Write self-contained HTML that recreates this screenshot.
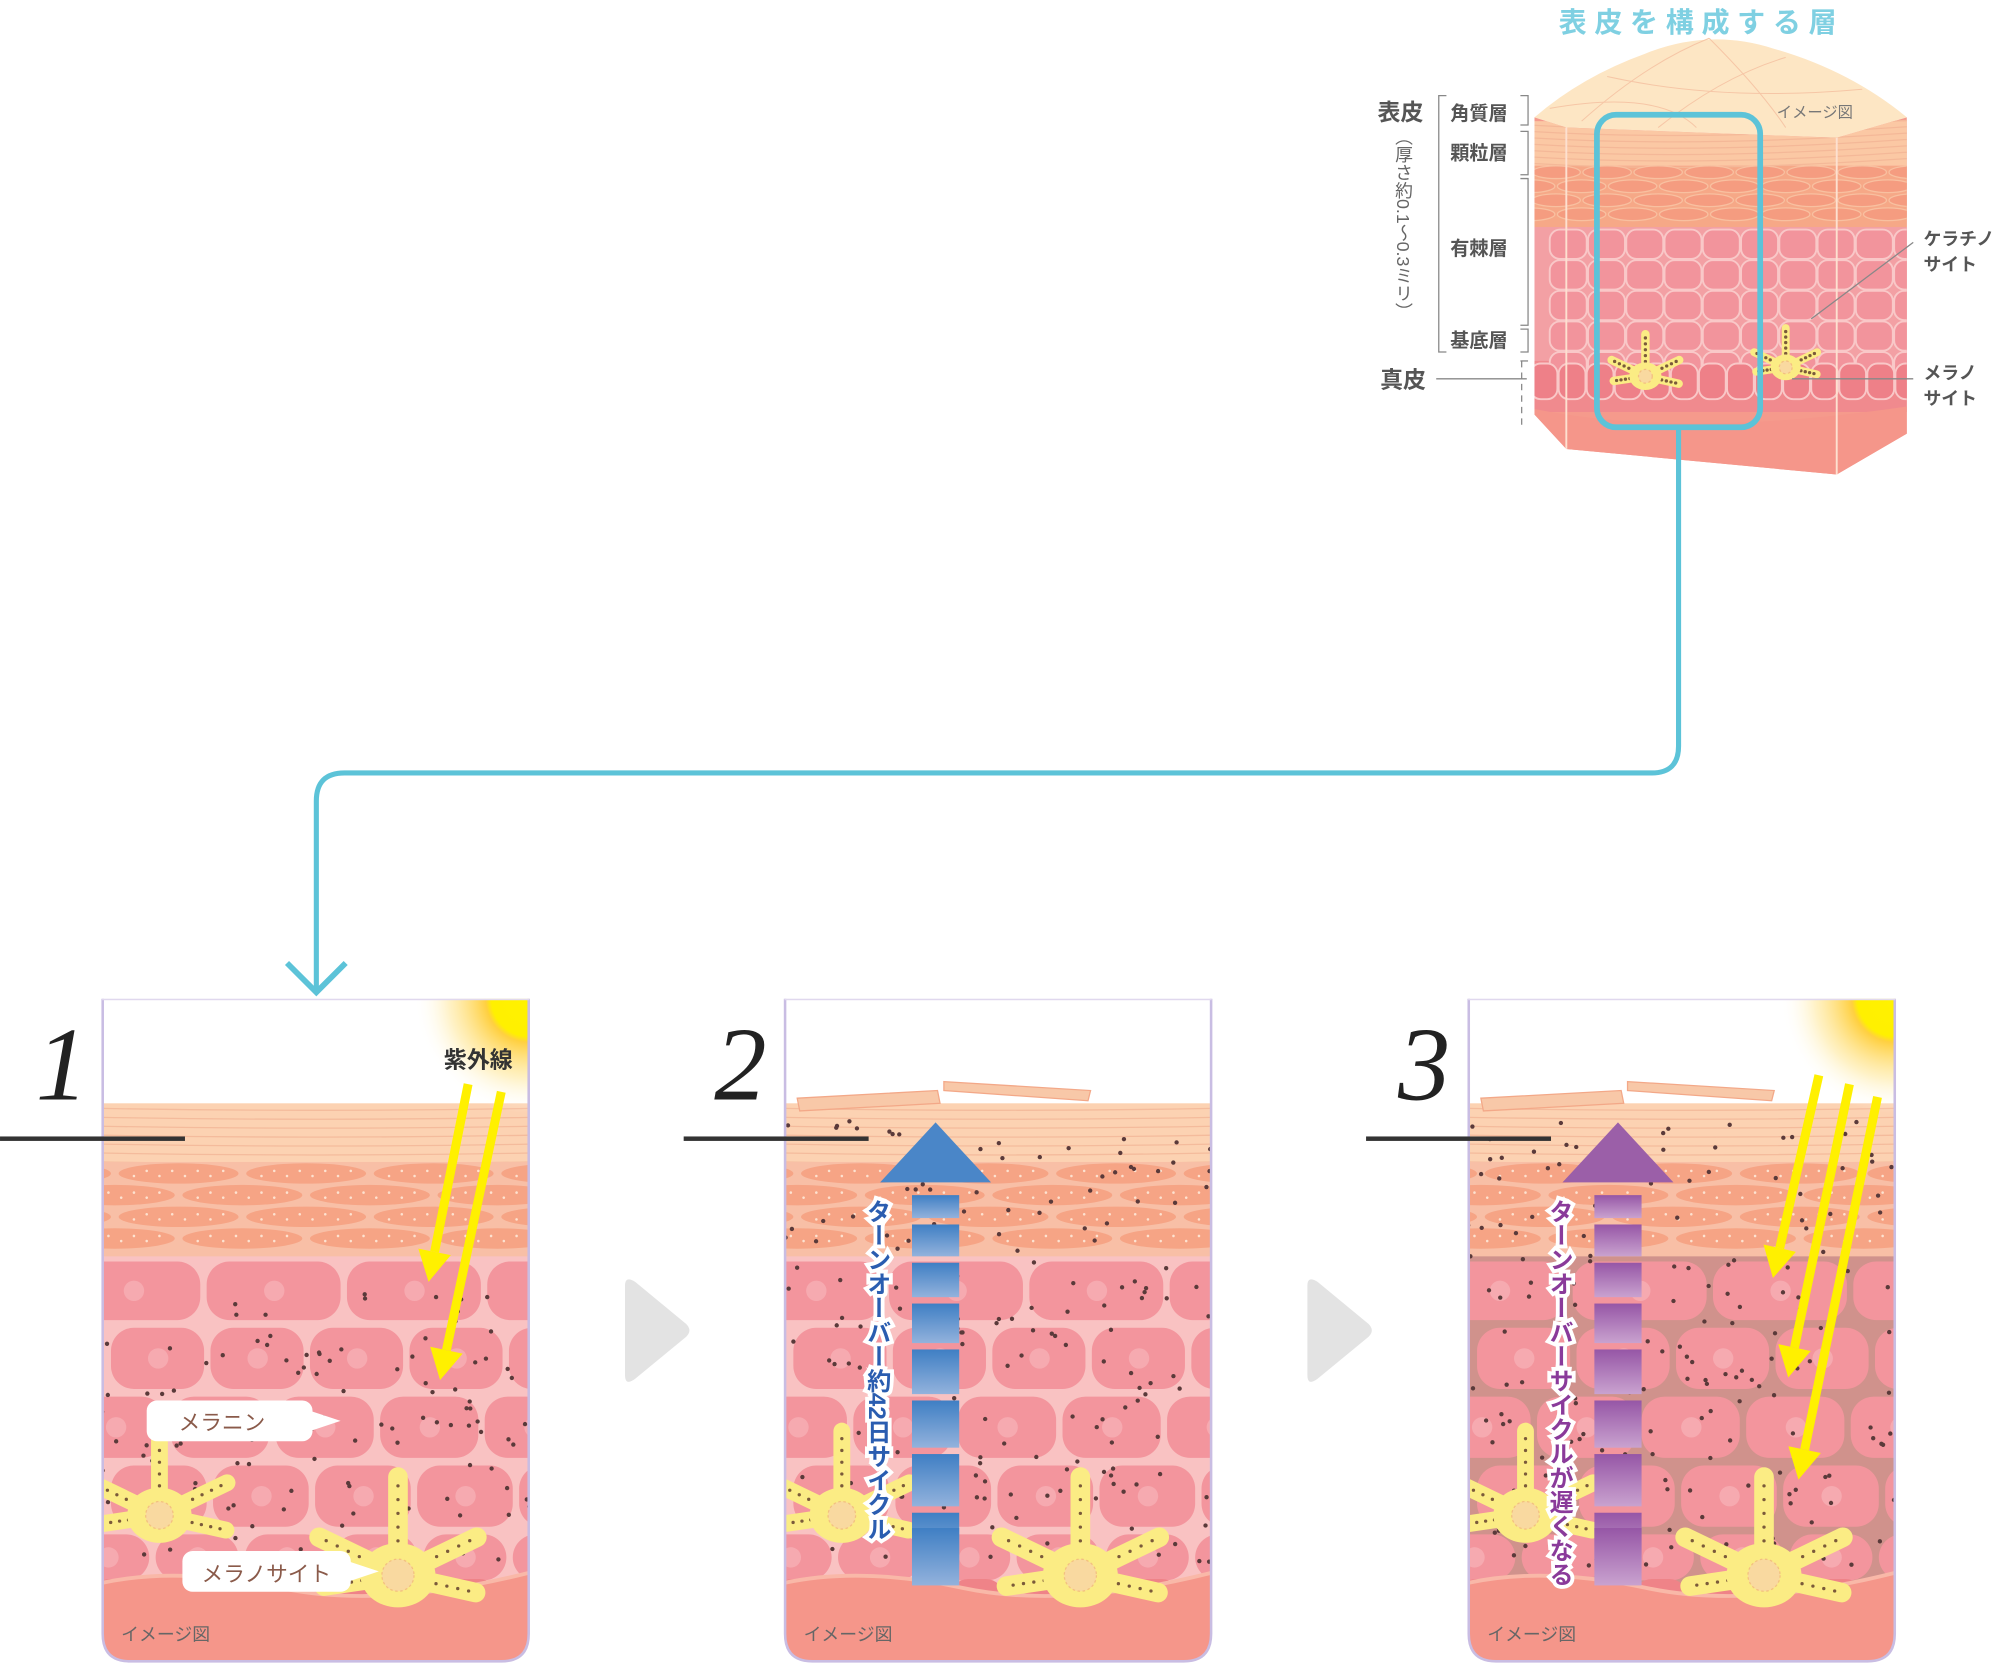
<!DOCTYPE html>
<html><head><meta charset="utf-8">
<style>
html,body{margin:0;padding:0;background:#fff;}
svg{display:block;}
text{font-family:"Liberation Sans","Noto Sans CJK JP",sans-serif;}
</style></head>
<body>
<svg id="s" xmlns="http://www.w3.org/2000/svg" width="2000" height="1664" viewBox="0 0 1568 1304.6">
<defs>
<clipPath id="pc"><path d="M0,0 H335 V498 Q335,520 313,520 H22 Q0,520 0,498 Z"/></clipPath>
<radialGradient id="sun" cx="0.5" cy="0.5" r="0.5">
<stop offset="0" stop-color="#fff200"/><stop offset="0.33" stop-color="#fff000"/><stop offset="0.38" stop-color="#ffd040"/><stop offset="0.7" stop-color="#ffe9a0" stop-opacity="0.6"/><stop offset="1" stop-color="#fff" stop-opacity="0"/>
</radialGradient>
<linearGradient id="bl" x1="0" y1="0" x2="0" y2="1"><stop offset="0" stop-color="#3f7fc4"/><stop offset="1" stop-color="#93b2dc"/></linearGradient>
<linearGradient id="pu" x1="0" y1="0" x2="0" y2="1"><stop offset="0" stop-color="#9656a6"/><stop offset="1" stop-color="#c9a2cf"/></linearGradient>
<clipPath id="cubeclip"><path d="M1203,92 L1228,100 L1440,108 L1495,92 L1495,340 L1440,372 L1228,352 L1203,325 Z"/></clipPath>
</defs>

<text x="1222" y="25" font-size="22" font-weight="bold" fill="#7fd0e2" letter-spacing="6">表皮を構成する層</text>
<g id="cube">
<path d="M1203,92 Q1240,60 1290,42 Q1340,22 1390,38 Q1450,55 1495,92 L1440,108 L1228,100 Z" fill="#fde6c4"/>
<g clip-path="url(#cubeclip)">
<rect x="1200" y="90" width="300" height="290" fill="#f59a8c"/>
<rect x="1200" y="95" width="300" height="35" fill="#fbc8a4"/>
<rect x="1200" y="130" width="300" height="48" fill="#f6a887"/>
<rect x="1200" y="178" width="300" height="105" fill="#f3a0a4"/>
<rect x="1200" y="283" width="300" height="40" fill="#f08a8e"/>
<path d="M1200,320 Q1320,345 1500,318 V380 H1200Z" fill="#f5968a"/>
<g id="cubelines" stroke="#f4b898" stroke-width="1" fill="none"></g>
<g id="cubecells" stroke="#f9c8c8" stroke-width="1.5" fill="none"></g>
<line x1="1228" y1="100" x2="1228" y2="352" stroke="#fde0d0" stroke-width="1.5"/>
<line x1="1440" y1="108" x2="1440" y2="372" stroke="#fde0d0" stroke-width="1.5"/>
</g>
<g stroke="#f6c6a6" stroke-width="0.8" fill="none">
<path d="M1240,95 Q1290,50 1340,30"/><path d="M1300,100 Q1350,60 1400,45"/><path d="M1260,60 Q1350,80 1460,70"/><path d="M1340,30 Q1380,70 1400,100"/><path d="M1215,85 Q1300,70 1330,100"/>
</g>
<text x="1393" y="92" font-size="12" fill="#777">イメージ図</text>
</g>
<rect x="1252" y="90" width="128" height="245" rx="15" fill="none" stroke="#5cc3d8" stroke-width="4.5"/>
<g fill="#555" font-weight="bold">
<text x="1080" y="94" font-size="18">表皮</text>
<text x="1137" y="94" font-size="15">角質層</text>
<text x="1137" y="125" font-size="15">顆粒層</text>
<text x="1137" y="200" font-size="15">有棘層</text>
<text x="1137" y="272" font-size="15">基底層</text>
<text x="1082" y="304" font-size="18">真皮</text>
</g>
<text font-size="14" fill="#666" x="1100" y="100" style="writing-mode:vertical-rl">（厚さ約0.1〜0.3ミリ）</text>
<g stroke="#888" stroke-width="1" fill="none">
<path d="M1134,75 H1128 V276 H1134"/>
<path d="M1192,75 H1198 V98 H1192"/><path d="M1192,103 H1198 V137 H1192"/><path d="M1192,140 H1198 V255 H1192"/><path d="M1192,258 H1198 V276 H1192"/>
<path d="M1192,283 H1198"/>
<line x1="1126" y1="297" x2="1197" y2="297"/>
<line x1="1193" y1="283" x2="1193" y2="335" stroke-dasharray="5,4"/>
<line x1="1500" y1="190" x2="1420" y2="250"/>
<line x1="1500" y1="297" x2="1405" y2="297"/>
</g>
<g fill="#555" font-size="14" font-weight="bold">
<text x="1508" y="192">ケラチノ</text><text x="1508" y="212">サイト</text>
<text x="1508" y="297">メラノ</text><text x="1508" y="317">サイト</text>
</g>

<path d="M1316,335 V585 Q1316,606 1295,606 H270 Q248,606 248,628 V775" fill="none" stroke="#5cc3d8" stroke-width="4"/>
<path d="M225,755 L248,778 L271,755" fill="none" stroke="#5cc3d8" stroke-width="4.5"/>

<g font-style="italic" font-size="82" fill="#222">
<text x="28" y="862" style="font-family:'Liberation Serif',serif">1</text>
<text x="560" y="862" style="font-family:'Liberation Serif',serif">2</text>
<text x="1096" y="862" style="font-family:'Liberation Serif',serif">3</text>
</g>
<path d="M490,1008 Q490,1000 498,1005 L538,1038 Q543,1043 538,1048 L498,1081 Q490,1087 490,1078Z" fill="#e3e3e3"/>
<path d="M1025,1008 Q1025,1000 1033,1005 L1073,1038 Q1078,1043 1073,1048 L1033,1081 Q1025,1087 1025,1078Z" fill="#e3e3e3"/>

<g id="panels"></g>
<g fill="#333"><rect x="0" y="891" width="145" height="3.5"/><rect x="536" y="891" width="145" height="3.5"/><rect x="1071" y="891" width="145" height="3.5"/></g>
</svg>
<script>
var NS="http://www.w3.org/2000/svg";
function el(t,a,p){var e=document.createElementNS(NS,t);for(var k in a)e.setAttribute(k,a[k]);if(p)p.appendChild(e);return e;}
var seed=7;function r(){seed=(seed*16807)%2147483647;return seed/2147483647;}
var cl=document.getElementById('cubelines');
for(var y=98;y<130;y+=5)el('path',{d:'M1200,'+y+' Q1330,'+(y+8)+' 1500,'+(y-4)},cl);
for(var y=135;y<178;y+=11)for(var x=1200;x<1500;x+=40)el('ellipse',{cx:x+(y%2?20:0),cy:y,rx:19,ry:5,fill:'#f59c80',stroke:'#f8c0a0'},cl);
var cc=document.getElementById('cubecells');
for(var y=180;y<280;y+=24)for(var x=1200;x<1500;x+=30)el('rect',{x:x+(y%48?15:0),y:y,width:29,height:23,rx:8,fill:'#f2949c'},cc);
for(var x=1200;x<1500;x+=22)el('rect',{x:x,y:285,width:21,height:28,rx:8,fill:'#ee8088'},cc);

function star(g,cx,cy,R){
 // arms: up, upper-left, upper-right, lower-left, lower-right
 var angs=[-90,-150,-30,170,15];var lens=[1.1,0.85,0.85,0.7,0.75];
 angs.forEach(function(a,i){var rad=a*Math.PI/180;var L=R*lens[i];
  el('line',{x1:cx,y1:cy,x2:cx+L*Math.cos(rad)*1.2,y2:cy+L*Math.sin(rad),stroke:'#fbec84','stroke-width':R*0.22,'stroke-linecap':'round'},g);
  for(var k=0.35;k<0.95;k+=0.14)el('circle',{cx:cx+L*k*Math.cos(rad)*1.2,cy:cy+L*k*Math.sin(rad),r:1.3,fill:'#7a5a3a'},g);});
 el('ellipse',{cx:cx,cy:cy,rx:R*0.42,ry:R*0.36,fill:'#fbec84'},g);
 el('circle',{cx:cx,cy:cy,r:R*0.18,fill:'#f9d9a0',stroke:'#f3c080','stroke-dasharray':'2,2'},g);}
var cube=document.getElementById('cube');
star(cube,1290,295,30);star(cube,1400,288,28);

var P=document.getElementById('panels');
[80,615,1151].forEach(function(px,idx){
 seed=11+idx*3;
 var g=el('g',{transform:'translate('+px+',783)'},P);
 var c=el('g',{'clip-path':'url(#pc)'},g);
 el('rect',{x:0,y:0,width:335,height:520,fill:'#fff'},c);
 el('rect',{x:0,y:82,width:335,height:50,fill:'#fcd2b2'},c);
 for(var y=86;y<130;y+=7)el('path',{d:'M0,'+y+' Q170,'+(y+3)+' 335,'+y,stroke:'#f4bb9c','stroke-width':1,fill:'none'},c);
 el('rect',{x:0,y:128,width:335,height:75,fill:'#f8bfa6'},c);
 for(var row=0;row<4;row++){for(var x=-40;x<380;x+=100){var ex=x+(row%2?50:0),ey=137+row*17;el('ellipse',{cx:ex,cy:ey,rx:47,ry:8,fill:'#f6a485'},c);
  for(var k=0;k<8;k++)el('circle',{cx:ex-35+k*10,cy:ey+(k%2?-2:2),r:1,fill:'#fde2d0'},c);}}
 el('rect',{x:0,y:202,width:335,height:280,fill:idx==2?'#d0928c':'#f9c2c2'},c);
 var rows=[[204,50,110],[256,52,78],[310,52,82],[364,52,80],[418,40,70]];
 rows.forEach(function(rw,ri){var off=(ri%2)*35-30;for(var x=off;x<360;x+=rw[2]){el('rect',{x:x+2,y:rw[0]+2,width:rw[2]-5,height:rw[1]-4,rx:18,fill:'#f3959d'},c);el('circle',{cx:x+rw[2]/2,cy:rw[0]+rw[1]/2,r:8,fill:'#f6aab0'},c);}});
 for(var x=-10;x<340;x+=46){el('rect',{x:x+2,y:455,width:42,height:60,rx:14,fill:'#ef8388'},c);el('circle',{cx:x+23,cy:480,r:7,fill:'#f59aa0'},c);}
 el('path',{d:'M0,458 Q60,445 140,462 T335,450 V520 H0Z',fill:'#f5968a'},c);
 el('path',{d:'M0,458 Q60,445 140,462 T335,450',fill:'none',stroke:'#f9b8a8','stroke-width':3},c);
 var n=idx==0?110:180;
 for(var k=0;k<n;k++){var dx=r()*335,dy=idx==0?230+r()*210:95+r()*350;if(idx==0&&dx<60&&dy<260)continue;el('circle',{cx:dx,cy:dy,r:1.7,fill:'#5a3a3a'},c);}
 star(c,45,405,60);star(c,232,452,70);
 if(idx>0){el('path',{d:'M10,78 L120,72 L122,82 L12,88Z',fill:'#f8c8a8',stroke:'#f3a888'},c);el('path',{d:'M125,65 L240,72 L238,80 L125,72Z',fill:'#f8c8a8',stroke:'#f3a888'},c);}
 if(idx!=1){el('circle',{cx:335,cy:0,r:90,fill:'url(#sun)'},c);}
 el('path',{d:'M0.5,0 V498 Q0.5,519.5 22,519.5 H313 Q334.5,519.5 334.5,498 V0',fill:'none',stroke:'#c9bde3','stroke-width':2},g);
 el('rect',{x:0,y:0,width:335,height:1.2,fill:'#e0d8ee'},g);
 var t=el('text',{x:15,y:503,'font-size':14,fill:'#666'},g);t.textContent='イメージ図';
});
var s=document.getElementById('s');
function yarrow(x1,y1,x2,y2){var dx=x2-x1,dy=y2-y1,L=Math.hypot(dx,dy),ux=dx/L,uy=dy/L;var bx=x2-ux*24,by=y2-uy*24;
 el('line',{x1:x1,y1:y1,x2:bx,y2:by,stroke:'#fff000','stroke-width':7},s);
 el('polygon',{points:x2+','+y2+' '+(bx-uy*13)+','+(by+ux*13)+' '+(bx+uy*13)+','+(by-ux*13),fill:'#fff000'},s);}
yarrow(367,850,336,1005);yarrow(393,856,345,1082);
yarrow(1426,843,1390,1002);yarrow(1450,850,1402,1080);yarrow(1472,860,1410,1160);
var t=el('text',{x:348,y:837,'font-size':18,'font-weight':'bold',fill:'#333'},s);t.textContent='紫外線';
[[115,1098,130,'メラニン',1117,140],[143,1216,132,'メラノサイト',1236,158]].forEach(function(b){el('rect',{x:b[0],y:b[1],width:b[2],height:32,rx:8,fill:'#fff'},s);el('polygon',{points:(b[0]+b[2]-2)+','+(b[1]+8)+' '+(b[0]+b[2]+22)+','+(b[1]+16)+' '+(b[0]+b[2]-2)+','+(b[1]+24),fill:'#fff'},s);var tt=el('text',{x:b[5],y:b[4]+4,'font-size':17,fill:'#8a5a4a'},s);tt.textContent=b[3];});
function turn(x,fill,c1,label,col){
 var ys=[937,960,990,1022,1058,1098,1140,1186,1232];
 for(var i=0;i<ys.length-1;i++)el('rect',{x:x,y:ys[i],width:37,height:ys[i+1]-ys[i]-5,fill:fill},s);
 el('rect',{x:x,y:1198,width:37,height:45,fill:fill},s);
 el('polygon',{points:(x-25)+',927 '+(x+18.5)+',880 '+(x+62)+',927',fill:c1},s);
 var tt=el('text',{x:x-28,y:940,'font-size':19,'font-weight':'bold',fill:col,stroke:'#fff','stroke-width':6,'paint-order':'stroke',style:'writing-mode:vertical-rl'},s);tt.textContent=label;}
turn(715,'url(#bl)','#4a86c8','ターンオーバー約42日サイクル','#2a5db0');
turn(1250,'url(#pu)','#9b5fa8','ターンオーバーサイクルが遅くなる','#8a3a9a');
</script>
</body></html>
